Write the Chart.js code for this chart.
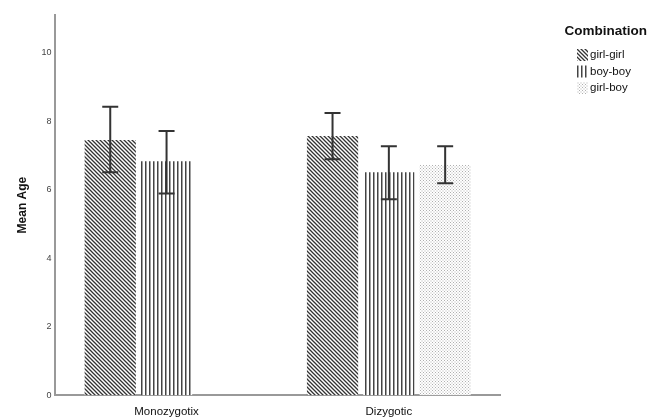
<!DOCTYPE html>
<html>
<head>
<meta charset="utf-8">
<script src="https://cdn.jsdelivr.net/npm/chart.js@4"></script>
<style>
  html, body { margin: 0; padding: 0; background: #fff; }
  #wrap { width: 649px; height: 418px; }
</style>
</head>
<body>
<div id="wrap"><canvas id="chart"></canvas></div>
<script>
// data
const categories = ['Monozygotix', 'Dizygotic'];
const seriesNames = ['girl-girl', 'boy-boy', 'girl-boy'];
const girlGirl = [7.45, 7.57];
const boyBoy = [6.83, 6.51];
const girlBoy = [null, 6.72];
const girlGirlErr = [[6.51, 8.42], [6.89, 8.24]];
const boyBoyErr = [[5.89, 7.71], [5.72, 7.27]];
const girlBoyErr = [null, [6.19, 7.27]];
const yTicks = [0, 2, 4, 6, 8, 10];
const legendTitle = 'Combination';

// hatch fills
function makePattern(kind) {
    const c = document.createElement('canvas');
    const g = c.getContext('2d');
    if (kind === 'diag') {
        c.width = 4; c.height = 4;
        g.fillStyle = '#fff'; g.fillRect(0, 0, 4, 4);
        g.strokeStyle = '#333'; g.lineWidth = 1.3;
        g.beginPath();
        g.moveTo(-1, -1); g.lineTo(5, 5);
        g.moveTo(-1, 3); g.lineTo(1, 5);
        g.moveTo(3, -1); g.lineTo(5, 1);
        g.stroke();
    } else if (kind === 'vert') {
        c.width = 4; c.height = 4;
        g.fillStyle = '#fff'; g.fillRect(0, 0, 4, 4);
        g.fillStyle = '#444'; g.fillRect(1, 0, 1.5, 4);
    } else {
        c.width = 3; c.height = 3;
        g.fillStyle = '#fff'; g.fillRect(0, 0, 3, 3);
        g.fillStyle = '#b0b0b0';
        g.fillRect(0, 0, 1, 1); g.fillRect(1.5, 1.5, 1, 1);
    }
    return g.createPattern(c, 'repeat');
}

const errorSets = [girlGirlErr, boyBoyErr, girlBoyErr];

const errorBarPlugin = {
    id: 'errorBars',
    afterDatasetsDraw(chart) {
        const ctx = chart.ctx;
        const y = chart.scales.y;
        ctx.save();
        ctx.strokeStyle = '#333';
        ctx.lineWidth = 2;
        chart.data.datasets.forEach((ds, di) => {
            const meta = chart.getDatasetMeta(di);
            meta.data.forEach((bar, i) => {
                const e = errorSets[di][i];
                if (!e) return;
                const x = bar.x;
                const lo = y.getPixelForValue(e[0]);
                const hi = y.getPixelForValue(e[1]);
                ctx.beginPath();
                ctx.moveTo(x, lo); ctx.lineTo(x, hi);
                ctx.moveTo(x - 8, lo); ctx.lineTo(x + 8, lo);
                ctx.moveTo(x - 8, hi); ctx.lineTo(x + 8, hi);
                ctx.stroke();
            });
        });
        ctx.restore();
    }
};

// legend drawn by hand so the title fits in the right margin
const legendPlugin = {
    id: 'sideLegend',
    afterDraw(chart) {
        const ctx = chart.ctx;
        ctx.save();
        ctx.fillStyle = '#111';
        ctx.textBaseline = 'middle';
        ctx.textAlign = 'right';
        ctx.font = 'bold 13.5px "Liberation Sans"';
        ctx.fillText(legendTitle, 647, 31);
        ctx.textAlign = 'left';
        ctx.font = '11.5px "Liberation Sans"';
        chart.data.datasets.forEach((ds, i) => {
            const yc = 55 + i * 16.5;
            ctx.fillStyle = ds.backgroundColor;
            ctx.fillRect(577, yc - 6, 11, 12);
            ctx.fillStyle = '#111';
            ctx.fillText(ds.label, 590, yc);
        });
        ctx.restore();
    }
};

const fills = [makePattern('diag'), makePattern('vert'), makePattern('dots')];

new Chart(document.getElementById('chart'), {
    type: 'bar',
    data: {
        labels: categories,
        datasets: [
            { label: seriesNames[0], data: girlGirl, backgroundColor: fills[0] },
            { label: seriesNames[1], data: boyBoy, backgroundColor: fills[1] },
            { label: seriesNames[2], data: girlBoy, backgroundColor: fills[2] }
        ]
    },
    options: {
        responsive: true,
        maintainAspectRatio: false,
        animation: false,
        datasets: { bar: { categoryPercentage: 0.76, barPercentage: 0.91, borderWidth: 0 } },
        layout: { padding: { top: 15, right: 149, left: 11, bottom: -11 } },
        plugins: {
            tooltip: { enabled: false },
            legend: { display: false }
        },
        scales: {
            x: {
                grid: { display: false, drawTicks: false },
                border: { color: '#999', width: 2 },
                ticks: { color: '#111', font: { family: 'Liberation Sans', size: 11.5 }, padding: 10 }
            },
            y: {
                min: 0,
                max: 11.1,
                afterBuildTicks: (s) => { s.ticks = yTicks.map(v => ({ value: v })); },
                grid: { display: false, drawTicks: false },
                border: { color: '#999', width: 2 },
                title: {
                    display: true,
                    text: 'Mean Age',
                    color: '#111',
                    font: { family: 'Liberation Sans', size: 12, weight: 'bold' },
                    padding: { top: 4, bottom: 8 }
                },
                ticks: { color: '#444', font: { family: 'Liberation Sans', size: 9 }, padding: 4 }
            }
        }
    },
    plugins: [errorBarPlugin, legendPlugin]
});
</script>
</body>
</html>
